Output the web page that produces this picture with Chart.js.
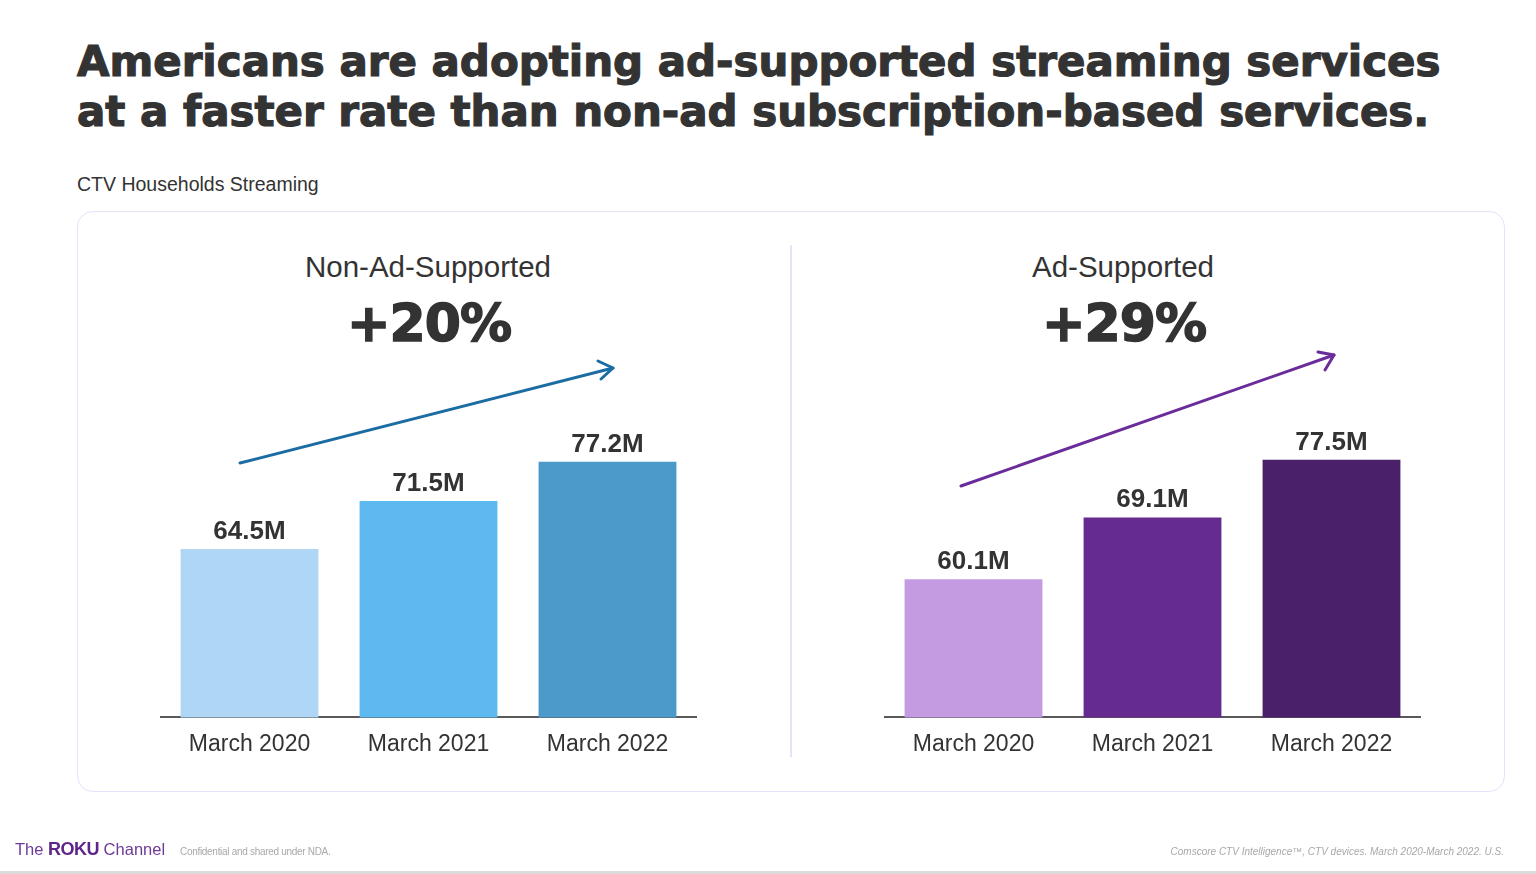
<!DOCTYPE html>
<html>
<head>
<meta charset="utf-8">
<script src="https://cdn.jsdelivr.net/npm/chart.js@4.4.1/dist/chart.umd.min.js"></script>
<style>
  html, body { margin: 0; padding: 0; background: #fff; }
  body { width: 1536px; height: 874px; position: relative; overflow: hidden; font-family: "Liberation Sans", Arial, sans-serif; color: #333; }
  .abs { position: absolute; white-space: nowrap; line-height: 1; }
  .title { font-family: "DejaVu Sans", sans-serif; font-weight: bold; left: 77px; color: #333; -webkit-text-stroke: 1.2px #333; }
  .box { position: absolute; left: 77px; top: 211px; width: 1426px; height: 579px; border: 1.5px solid #e3e3fa; border-radius: 16px; }
  .divider { position: absolute; left: 790px; top: 245px; width: 1.5px; height: 512px; background: #e3e3fa; }
  .panelHead { font-size: 29.5px; text-align: center; width: 400px; }
  .growth { font-family: "DejaVu Sans", sans-serif; font-weight: bold; font-size: 52px; text-align: center; width: 400px; letter-spacing: -1px; -webkit-text-stroke: 1.5px #333; }
  canvas { position: absolute; }
  .band { position: absolute; left: 0; top: 871px; width: 1536px; height: 3px; background: #dcdcdc; }
</style>
</head>
<body>
<div class="abs title" id="t1">Americans are adopting ad-supported streaming services</div>
<div class="abs title" id="t2">at a faster rate than non-ad subscription-based services.</div>
<div class="abs" style="left:77px; top:175px; font-size:19.5px;">CTV Households Streaming</div>

<div class="box"></div>
<div class="divider"></div>

<div class="abs panelHead" id="h1" style="left:228px; top:252px;"></div>
<div class="abs growth" id="g1" style="left:229px; top:297px;"></div>
<div class="abs panelHead" id="h2" style="left:923px; top:252px;"></div>
<div class="abs growth" id="g2" style="left:924px; top:297px;"></div>

<canvas id="leftChart" width="537" height="466" style="left:160px; top:305px;"></canvas>
<canvas id="rightChart" width="537" height="466" style="left:884px; top:305px;"></canvas>

<svg width="1536" height="874" style="position:absolute; left:0; top:0; pointer-events:none;">
  <g fill="none" stroke-width="3" stroke-linecap="round" stroke-linejoin="round">
    <line x1="240" y1="463" x2="613" y2="368" stroke="#1b6ca3"/>
    <polyline points="598,361 613,368 601,379" stroke="#1b6ca3"/>
    <line x1="961" y1="486" x2="1334" y2="355" stroke="#6a2c9a"/>
    <polyline points="1318,352 1334,355 1325,370" stroke="#6a2c9a"/>
  </g>
</svg>

<div class="abs" style="left:15px; top:840px; font-size:16.5px; color:#6d3a97;">The <span style="font-weight:900; font-size:18px; color:#5f2489; letter-spacing:-0.5px;">ROKU</span> Channel</div>
<div class="abs" style="left:180px; top:847px; font-size:10px; color:#a8a8a8; letter-spacing:-0.3px;">Confidential and shared under NDA.</div>
<div class="abs" style="right:32px; top:847px; font-size:10px; color:#a8a8a8; font-style:italic;">Comscore CTV Intelligence™, CTV devices. March 2020-March 2022. U.S.</div>
<div class="band"></div>

<script>
// data
const categories = ['March 2020', 'March 2021', 'March 2022'];
const nonAdValues = [64.5, 71.5, 77.2];
const adValues = [60.1, 69.1, 77.5];
const nonAdColors = ['#b0d6f5', '#5db9ef', '#4b9ac9'];
const adColors = ['#c49be0', '#662b8f', '#4b206a'];
const panelTitles = ['Non-Ad-Supported', 'Ad-Supported'];
const growthLabels = ['+20%', '+29%'];

document.getElementById('h1').textContent = panelTitles[0];
document.getElementById('h2').textContent = panelTitles[1];
document.getElementById('g1').textContent = growthLabels[0];
document.getElementById('g2').textContent = growthLabels[1];

// size the headline so line one spans the same width as the slide
const measure = document.createElement('canvas').getContext('2d');
measure.font = 'bold 100px "DejaVu Sans"';
const t1 = document.getElementById('t1');
const t2 = document.getElementById('t2');
const w100 = measure.measureText(t1.textContent).width;
const titleSize = Math.min(52, 100 * 1364 / w100);
[[t1, 77], [t2, 127]].forEach(([el, baseline]) => {
    el.style.fontSize = titleSize + 'px';
    el.style.top = (baseline - 0.846 * titleSize) + 'px';
});

Chart.defaults.font.family = '"Liberation Sans", Arial, sans-serif';
Chart.defaults.color = '#333';

const valueLabels = {
    id: 'valueLabels',
    afterDatasetsDraw(chart) {
        const ctx = chart.ctx;
        const values = chart.data.datasets[0].data;
        ctx.save();
        ctx.font = 'bold 26px "Liberation Sans", Arial, sans-serif';
        ctx.fillStyle = '#333';
        ctx.textAlign = 'center';
        ctx.textBaseline = 'alphabetic';
        chart.getDatasetMeta(0).data.forEach((bar, i) => {
            ctx.fillText(values[i] + 'M', bar.x, bar.y - 10);
        });
        ctx.restore();
    }
};

function makeChart(id, values, colors) {
    return new Chart(document.getElementById(id), {
        type: 'bar',
        data: {
            labels: categories,
            datasets: [{
                data: values,
                backgroundColor: colors,
                borderWidth: 0,
                barPercentage: 0.77,
                categoryPercentage: 1
            }]
        },
        options: {
            responsive: false,
            animation: false,
            layout: { padding: 0 },
            plugins: { legend: { display: false }, tooltip: { enabled: false } },
            scales: {
                x: {
                    grid: { display: false, drawTicks: false },
                    border: { display: true, color: '#595959', width: 2 },
                    ticks: { color: '#333', font: { size: 23 }, padding: 13 }
                },
                y: { display: false, min: 40, max: 100 }
            }
        },
        plugins: [valueLabels]
    });
}

makeChart('leftChart', nonAdValues, nonAdColors);
makeChart('rightChart', adValues, adColors);
</script>
</body>
</html>
